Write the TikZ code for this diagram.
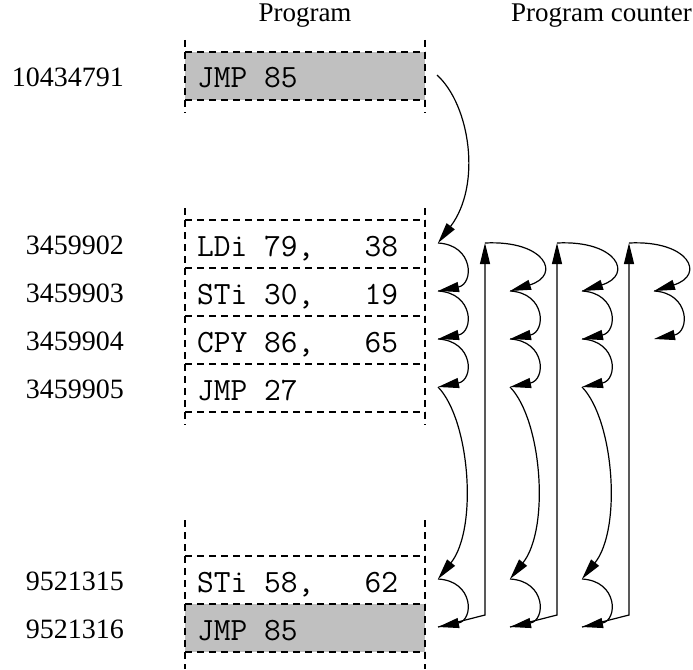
\documentclass[tikz,border=0pt]{standalone}
\usepackage{fontspec}
\setmainfont{Liberation Serif}
\usetikzlibrary{arrows.meta}
\definecolor{cellgray}{RGB}{192,192,192}
\begin{document}
\begin{tikzpicture}[x=1pt,y=-1pt,
  dl/.style={line width=1.1pt, dash pattern=on 7pt off 5pt},
  cell/.style={minimum width=240pt, minimum height=48pt, inner sep=0pt, outer sep=0pt, draw=none},
  graycell/.style={cell, fill=cellgray},
  code/.style={font=\fontsize{32.5}{34}\selectfont\ttfamily, anchor=base west, inner sep=0pt},
  addr/.style={font=\fontsize{28}{30}\selectfont, anchor=base east, inner sep=0pt},
  title/.style={font=\fontsize{27}{30}\selectfont, inner sep=0pt},
  pc/.style={line width=1.2pt, -{Triangle[length=21pt,width=10pt]}}]
\useasboundingbox (0,0) rectangle (693,669);

% titles
\node[title, anchor=base] (tprog) at (305,22) {Program};
\node[title, anchor=base east] (tpc) at (692,22) {Program counter};

% cells
\node[graycell] (c0) at (305,76) {};
\node[cell] (c1) at (305,244) {};
\node[cell] (c2) at (305,292) {};
\node[cell] (c3) at (305,340) {};
\node[cell] (c4) at (305,388) {};
\node[cell] (c5) at (305,580) {};
\node[graycell] (c6) at (305,628) {};

% dashed lines
\foreach \y in {52,100,220,268,316,364,412,556,604,652}
  \draw[dl] (185,\y) -- (425,\y);
\foreach \x in {185,425} {
  \draw[dl] (\x,40) -- (\x,113);
  \draw[dl] (\x,208) -- (\x,425);
  \draw[dl] (\x,520) -- (\x,669);
}

% code
\node[code] (k0) at (197,87.5) {JMP 85};
\node[code] (k1) at (197,256) {LDi 79,~~~38};
\node[code] (k2) at (197,304) {STi 30,~~~19};
\node[code] (k3) at (197,352) {CPY 86,~~~65};
\node[code] (k4) at (197,400) {JMP 27};
\node[code] (k5) at (197,592) {STi 58,~~~62};
\node[code] (k6) at (197,640) {JMP 85};

% addresses
\node[addr] (a0) at (124,86) {10434791};
\node[addr] (a1) at (124,254) {3459902};
\node[addr] (a2) at (124,302) {3459903};
\node[addr] (a3) at (124,350) {3459904};
\node[addr] (a4) at (124,398) {3459905};
\node[addr] (a5) at (124,590) {9521315};
\node[addr] (a6) at (124,638) {9521316};

% program counter coordinates
\coordinate (s0) at (437,75);
\foreach \k in {0,1,2,3} {
  \pgfmathsetmacro\xx{438+72*\k}
  \foreach \r/\y in {1/243,2/291,3/339,4/387,5/579,6/627}
    \coordinate (p\k-\r) at (\xx,\y);
  \coordinate (e\k) at (\xx-25,243);
  \coordinate (b\k) at (\xx+47,615);
}

% column 0
\draw[pc] (s0) .. controls +(33,30) and +(44,-58) .. (p0-1);
\draw[pc] (p0-1) .. controls +(36,2) and +(36,-7) .. (p0-2);
% columns 0-2 common part
\foreach \k in {0,1,2} {
  \draw[pc] (p\k-2) .. controls +(36,2) and +(36,-7) .. (p\k-3);
  \draw[pc] (p\k-3) .. controls +(36,2) and +(36,-7) .. (p\k-4);
  \draw[pc] (p\k-4) .. controls +(32,33) and +(40,-50) .. (p\k-5);
  \draw[pc] (p\k-5) .. controls +(36,2) and +(36,-7) .. (p\k-6);
}
% jumps back
\draw[pc] (p0-6) -- (b0) -- (e1);
\draw[pc] (p1-6) -- (b1) -- (e2);
\draw[pc] (p2-6) -- (b2) -- (e3);
% first arcs of columns 1-3
\foreach \k in {1,2,3}
  \draw[pc] (e\k) .. controls +(60,-3) and +(52,-16) .. (p\k-2);
% column 3 last arc
\draw[pc] (p3-2) .. controls +(36,2) and +(36,-7) .. (p3-3);
\end{tikzpicture}
\end{document}
